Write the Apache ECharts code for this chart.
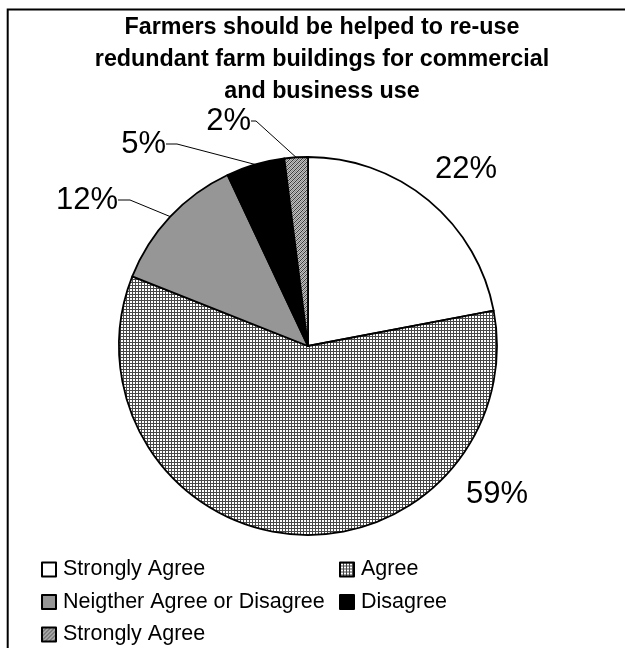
<!DOCTYPE html>
<html><head><meta charset="utf-8">
<script src="https://cdn.jsdelivr.net/npm/echarts@6/dist/echarts.min.js"></script>
<style>html,body{margin:0;padding:0;background:#fff}#c{width:625px;height:648px}</style>
</head><body><div id="c"></div>
<script>
// ---- data ----
const categories = ['Strongly Agree', 'Agree', 'Neigther Agree or Disagree', 'Disagree', 'Strongly Agree '];
const values = [22, 59, 12, 5, 2];
const titleLines = ['Farmers should be helped to re-use', 'redundant farm buildings for commercial', 'and business use'];
const legendColumn1 = [categories[0], categories[2], categories[4]];
const legendColumn2 = [categories[1], categories[3]];

// ---- presentation ----
function makePattern(size, fn) {
  const c = document.createElement('canvas'); c.width = size; c.height = size;
  const ctx = c.getContext('2d');
  for (let y = 0; y < size; y++) for (let x = 0; x < size; x++) { ctx.fillStyle = fn(x, y); ctx.fillRect(x, y, 1, 1); }
  return c;
}
const gridPat = makePattern(3, (x, y) => (x === 0 || y === 0) ? '#484848' : '#ffffff');
const hatchPat = makePattern(4, (x, y) => { const k = (x + y) % 4; return k === 0 ? '#3a3a3a' : (k === 2 ? '#8a8a8a' : '#c0c0c0'); });
const fills = ['#ffffff', { image: gridPat, repeat: 'repeat' }, '#969696', '#000000', { image: hatchPat, repeat: 'repeat' }];
const labelPlace = [
  { x: 431, y: 169, align: 'left', line: false, len2: 0 },
  { x: 462, y: 494, align: 'left', line: false, len2: 0 },
  { x: 122, y: 200, align: 'right', line: true, len2: 12 },
  { x: 170, y: 144, align: 'right', line: true, len2: 11 },
  { x: 255, y: 121, align: 'right', line: true, len2: 5 }
];
const FONT = '"Liberation Sans", Arial, sans-serif';

const data = categories.map((name, i) => ({
  name, value: values[i],
  itemStyle: { color: fills[i] },
  labelLine: { show: labelPlace[i].line, length2: labelPlace[i].len2 }
}));

const legendCommon = {
  orient: 'vertical', top: 558.5, itemWidth: 14, itemHeight: 14, itemGap: 10.5,
  icon: 'rect', selectedMode: false, padding: 0,
  formatter: n => n.trim(),
  textStyle: { fontFamily: FONT, fontSize: 21.5, lineHeight: 21, color: '#000', padding: [0, 0, 0, 2] }
};

const chart = echarts.init(document.getElementById('c'), null, { renderer: 'canvas' });
chart.setOption({
  animation: false,
  backgroundColor: '#ffffff',
  title: {
    text: titleLines.join('\n'), left: 322, top: 12, textAlign: 'center', padding: 0,
    textStyle: { fontFamily: FONT, fontSize: 23.3, fontWeight: 'bold', lineHeight: 32, color: '#000' }
  },
  legend: [
    Object.assign({ left: 41, data: legendColumn1 }, legendCommon),
    Object.assign({ left: 339, data: legendColumn2 }, legendCommon)
  ],
  graphic: [
    { type: 'rect', silent: true, shape: { x: 7.7, y: 9.5, width: 700, height: 700 }, style: { fill: 'none', stroke: '#000', lineWidth: 2 } }
  ],
  series: [{
    type: 'pie', center: [308, 346], radius: 189, startAngle: 90, clockwise: true,
    avoidLabelOverlap: false, silent: true,
    itemStyle: { borderColor: '#000', borderWidth: 1.8 },
    label: {
      show: true, position: 'outside', formatter: p => p.value + '%',
      fontFamily: FONT, fontSize: 31, color: '#000', padding: [0, 4]
    },
    labelLine: { show: true, length: 15, length2: 10, minTurnAngle: 90, lineStyle: { color: '#000', width: 1 } },
    labelLayout: p => { const l = labelPlace[p.dataIndex]; return { x: l.x, y: l.y, align: l.align, verticalAlign: 'middle' }; },
    emphasis: { disabled: true },
    data
  }]
});
</script></body></html>
